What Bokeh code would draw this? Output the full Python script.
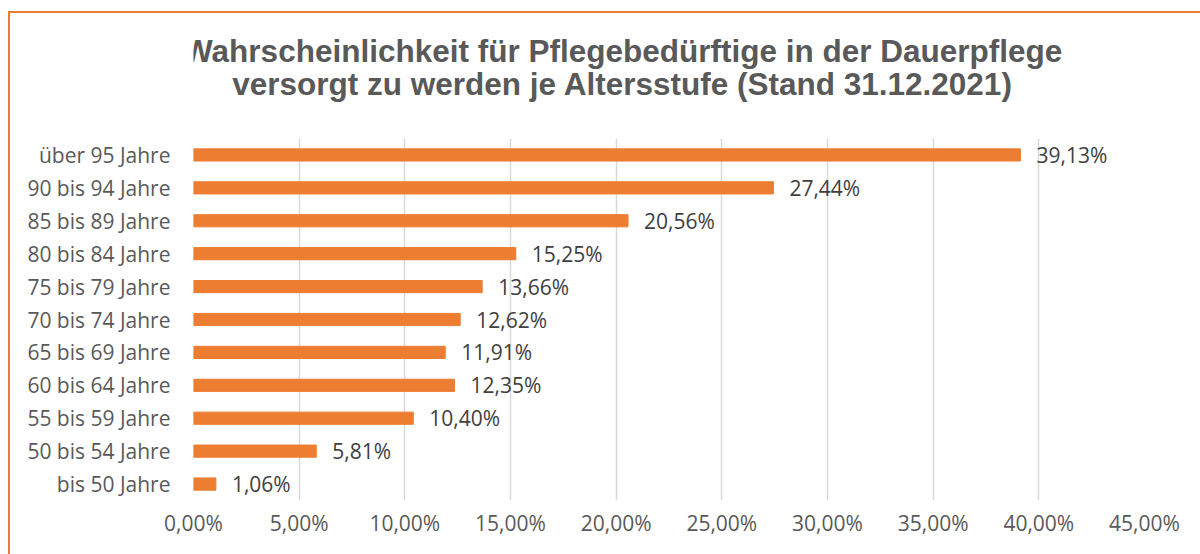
from bokeh.plotting import figure
from bokeh.layouts import column
from bokeh.models import ColumnDataSource, Range1d, FixedTicker, CustomJSTickFormatter
from bokeh.core.properties import value
from bokeh.embed import file_html
from bokeh.resources import INLINE

categories = ["bis 50 Jahre", "50 bis 54 Jahre", "55 bis 59 Jahre", "60 bis 64 Jahre",
              "65 bis 69 Jahre", "70 bis 74 Jahre", "75 bis 79 Jahre", "80 bis 84 Jahre",
              "85 bis 89 Jahre", "90 bis 94 Jahre", "über 95 Jahre"]
values = [1.06, 5.81, 10.40, 12.35, 11.91, 12.62, 13.66, 15.25, 20.56, 27.44, 39.13]
tick_values = [0, 5, 10, 15, 20, 25, 30, 35, 40, 45]
title_lines = ["Wahrscheinlichkeit für Pflegebedürftige in der Dauerpflege",
               "versorgt zu werden je Altersstufe (Stand 31.12.2021)"]

labels = [("%.2f%%" % v).replace(".", ",") for v in values]
src = ColumnDataSource(dict(cat=categories, val=values, lab=labels))

ORANGE = "#ED7D31"
GREY = "#595959"
W = 1190
TITLE_H = 125

# ---- title strip (pixel-like coordinates, origin bottom-left) ----
tf = figure(width=W, height=TITLE_H, x_range=Range1d(0, W), y_range=Range1d(0, TITLE_H),
            output_backend="svg", toolbar_location=None, min_border=0,
            x_axis_type=None, y_axis_type=None)
tf.outline_line_color = None
tf.grid.visible = False
title_src = ColumnDataSource(dict(x=[537, 537], y=[88, 54.5], t=title_lines))
tf.text(x="x", y="y", text="t", source=title_src, text_align="center", text_baseline="alphabetic",
        text_font=value("Liberation Sans"), text_font_size="31.5px", text_font_style="bold",
        text_color=GREY)

# ---- bar chart ----
p = figure(width=W, height=541 - TITLE_H, y_range=categories, x_range=Range1d(0, 45),
           output_backend="svg", toolbar_location=None,
           min_border_left=183, min_border_right=56, min_border_top=0, min_border_bottom=54)

p.hbar(y="cat", right="val", left=0, height=0.37, color=ORANGE, source=src)
p.text(x="val", y="cat", text="lab", source=src, x_offset=16, text_baseline="middle",
       text_align="left", text_font=value("Open Sans"), text_font_size="21px", text_color="#404040")

p.xaxis.ticker = FixedTicker(ticks=tick_values)
p.xaxis.formatter = CustomJSTickFormatter(code="return tick.toFixed(2).replace('.', ',') + '%';")
p.xaxis.axis_line_color = None
p.xaxis.major_tick_line_color = None
p.xaxis.minor_tick_line_color = None
p.xaxis.major_tick_out = 0
p.xaxis.major_tick_in = 0
p.xaxis.major_label_text_font = "Open Sans"
p.xaxis.major_label_text_font_size = "21px"
p.xaxis.major_label_text_color = GREY
p.xaxis.major_label_standoff = 8

p.yaxis.axis_line_color = None
p.yaxis.major_tick_line_color = None
p.yaxis.minor_tick_line_color = None
p.yaxis.major_tick_out = 0
p.yaxis.major_tick_in = 0
p.yaxis.major_label_text_font = "Open Sans"
p.yaxis.major_label_text_font_size = "21px"
p.yaxis.major_label_text_color = GREY
p.yaxis.major_label_standoff = 23

p.xgrid.grid_line_color = "#D9D9D9"
p.xgrid.grid_line_width = 1.5
p.ygrid.grid_line_color = None
p.outline_line_color = None
p.y_range.range_padding = 0

layout = column(tf, p, spacing=0,
                styles={"border-left": "2px solid " + ORANGE, "border-top": "2px solid " + ORANGE,
                        "margin-top": "11px", "margin-left": "8px"})

open("out.html", "w").write(file_html(layout, INLINE))
